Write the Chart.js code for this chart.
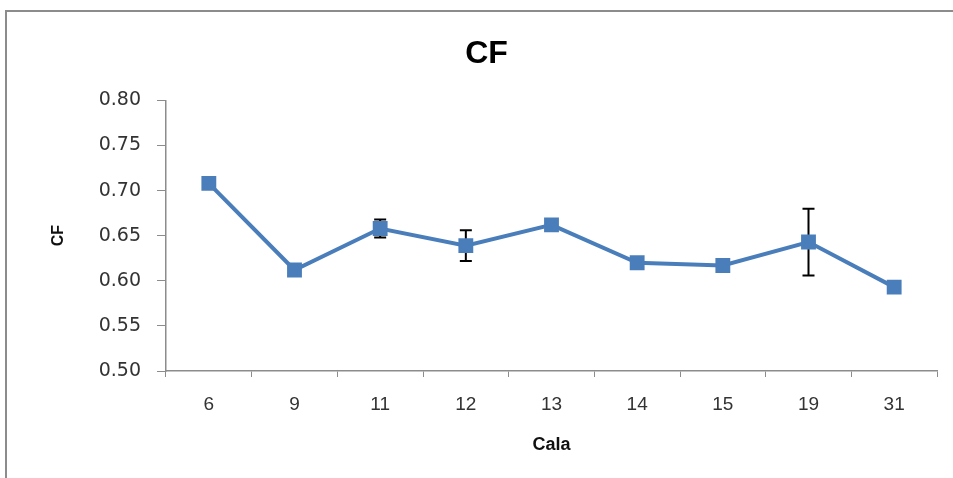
<!DOCTYPE html>
<html>
<head>
<meta charset="utf-8">
<script src="https://cdn.jsdelivr.net/npm/chart.js@4/dist/chart.umd.min.js"></script>
<style>
  body { margin: 0; background: #fff; }
  #wrap { position: relative; width: 953px; height: 478px; }
  #frame { position: absolute; left: 5px; top: 10px; right: -5px; bottom: -5px;
           border-left: 2px solid #8c8c8c; border-top: 2px solid #8c8c8c; }
  canvas { position: absolute; left: 0; top: 0; }
</style>
</head>
<body>
<div id="wrap">
  <div id="frame"></div>
  <canvas id="chart" width="953" height="478"></canvas>
</div>
<script>
// data
const calas = ['6', '9', '11', '12', '13', '14', '15', '19', '31'];
const cfValues = [0.708, 0.612, 0.658, 0.639, 0.662, 0.620, 0.617, 0.643, 0.593];
const cfErrors = [0, 0.006, 0.010, 0.017, 0, 0, 0.005, 0.037, 0];
const yTicks = [0.50, 0.55, 0.60, 0.65, 0.70, 0.75, 0.80];

const axisGray = '#8c8c8c';

// error bars, drawn behind the markers
const errorBars = {
    id: 'errorBars',
    beforeDatasetsDraw(chart) {
        const ctx = chart.ctx;
        const x = chart.scales.x, y = chart.scales.y;
        ctx.save();
        ctx.strokeStyle = '#000';
        ctx.lineWidth = 2;
        cfValues.forEach((v, i) => {
            const e = cfErrors[i];
            if (!e) return;
            const px = x.getPixelForValue(i);
            const top = y.getPixelForValue(v + e);
            const bot = y.getPixelForValue(v - e);
            ctx.beginPath();
            ctx.moveTo(px, top); ctx.lineTo(px, bot);
            ctx.moveTo(px - 6, top); ctx.lineTo(px + 6, top);
            ctx.moveTo(px - 6, bot); ctx.lineTo(px + 6, bot);
            ctx.stroke();
        });
        ctx.restore();
    }
};

var ctx = document.getElementById('chart').getContext('2d');
var cfChart = new Chart(ctx, {
    type: 'line',
    data: {
        labels: calas,
        datasets: [{
            label: 'CF',
            data: cfValues,
            borderColor: '#4a7ebb',
            backgroundColor: '#4a7ebb',
            borderWidth: 4,
            pointStyle: 'rect',
            pointRadius: 10.5,
            pointBorderWidth: 0,
            tension: 0
        }]
    },
    options: {
        responsive: false,
        animation: false,
        layout: { padding: { left: 36, right: 16, top: 26, bottom: 10 } },
        plugins: {
            legend: { display: false },
            tooltip: { enabled: false },
            title: {
                display: true,
                text: 'CF',
                color: '#000',
                font: { family: 'Liberation Sans', size: 32, weight: 'bold' },
                padding: { top: 9, bottom: 27 }
            }
        },
        scales: {
            x: {
                offset: true,
                grid: { offset: true, drawOnChartArea: false, color: axisGray, tickLength: 6 },
                border: { color: axisGray, width: 1.5 },
                ticks: { color: '#333', font: { family: 'Liberation Sans', size: 19 }, padding: 16 },
                title: {
                    display: true, text: 'Cala', color: '#111',
                    font: { family: 'Liberation Sans', size: 18, weight: 'bold' },
                    padding: { top: 0, bottom: 12 }
                },
                afterFit(scale) { scale.height = 97; }
            },
            y: {
                min: 0.5,
                max: 0.8,
                grid: { drawOnChartArea: false, color: axisGray, tickLength: 9 },
                border: { color: axisGray, width: 1.5 },
                afterBuildTicks(scale) { scale.ticks = yTicks.map(v => ({ value: v })); },
                ticks: {
                    color: '#333',
                    font: { family: 'DejaVu Sans', size: 19 },
                    padding: 16,
                    callback: v => v.toFixed(2)
                },
                title: {
                    display: true, text: 'CF', color: '#111',
                    font: { family: 'Liberation Sans', size: 16, weight: 'bold' },
                    padding: { top: 13, bottom: 0 }
                },
                afterFit(scale) { scale.width = 130; }
            }
        }
    },
    plugins: [errorBars]
});
</script>
</body>
</html>
